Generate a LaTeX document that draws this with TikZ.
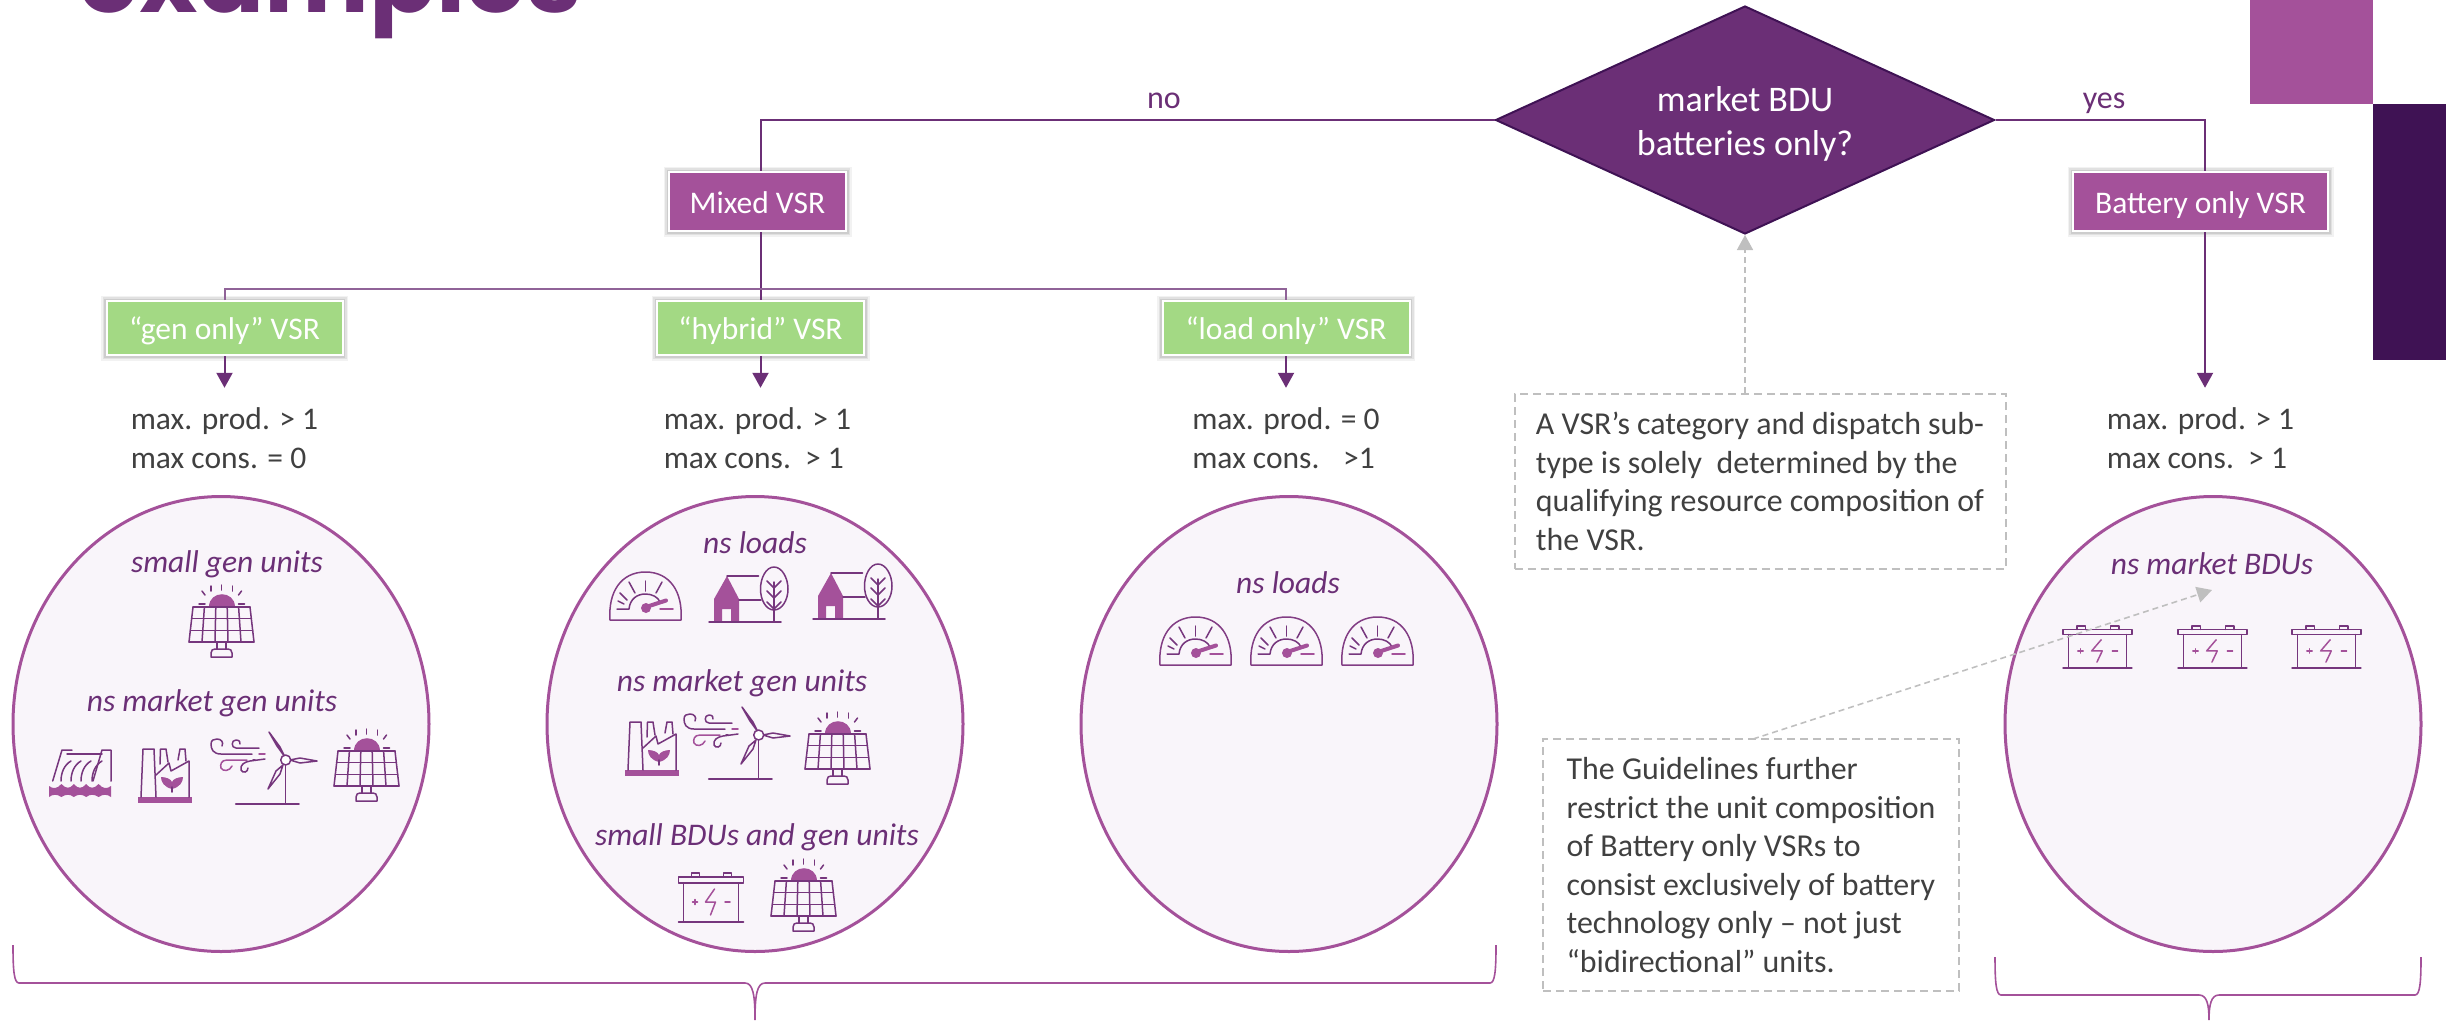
\documentclass[tikz,border=0pt]{standalone}
\usepackage{fontspec}
\setmainfont{Carlito}
\newfontfamily\titlefont{Poppins}
\usetikzlibrary{positioning,shapes,arrows.meta,shadows}
\definecolor{plum}{HTML}{6B2F76}
\definecolor{orchid}{HTML}{A4519A}
\definecolor{aubergine}{HTML}{3F1254}
\definecolor{leaf}{HTML}{A3D984}
\definecolor{blush}{HTML}{F9F5FA}
\definecolor{notegrey}{HTML}{BFBFBF}
\definecolor{bodygrey}{HTML}{404040}
\newcommand{\bodysize}{\fontsize{31.5}{38.6}\selectfont}
\tikzstyle{vsrbox} = [rectangle, minimum height=59pt, inner sep=0pt, text height=23pt, text depth=0pt, text=white, font=\bodysize, draw=white, line width=2pt, preaction={draw=black, draw opacity=0.05, line width=11pt}, preaction={draw=black, draw opacity=0.07, line width=8pt}, preaction={draw=black, draw opacity=0.09, line width=5pt}]
\tikzstyle{mixedbox} = [vsrbox, fill=orchid]
\tikzstyle{greenbox} = [vsrbox, fill=leaf, minimum height=54pt]
\tikzstyle{question} = [diamond, aspect=2.19, inner sep=0pt, minimum width=499pt, minimum height=228pt, fill=plum, draw=aubergine, line width=2pt, text=white, align=center, font=\fontsize{36}{44}\selectfont]
\tikzstyle{spec} = [inner sep=0pt, minimum height=100pt, text=bodygrey, align=left, font=\bodysize]
\tikzstyle{group} = [ellipse, inner sep=0pt, minimum width=416pt, minimum height=455pt, fill=blush, draw=orchid, line width=3pt]
\tikzstyle{unitlabel} = [text=plum, font=\bodysize\itshape]
\tikzstyle{branchlabel} = [anchor=base, text=plum, font=\fontsize{32}{38}\selectfont]
\tikzstyle{note} = [rectangle, inner sep=0pt, text=bodygrey, align=left, font=\fontsize{31.9}{38.6}\selectfont, draw=notegrey, line width=2pt, dash pattern=on 8pt off 5pt]
\tikzstyle{connect} = [line width=2pt, draw=plum, -{Triangle[length=15pt,width=16pt]}]
\tikzstyle{link} = [line width=2pt, draw=plum]
\tikzstyle{hint} = [line width=1.6pt, draw=notegrey, dash pattern=on 6pt off 4pt, -{Triangle[length=15pt,width=16pt,fill=notegrey]}]
\tikzstyle{brace} = [line width=1.6pt, draw=orchid]
\tikzstyle{thin icon} = [line width=1.5pt, draw=plum!80!orchid, line cap=round, line join=round]
\tikzset{
  solarpanel/.pic={
    \fill [orchid] (19.7,22) .. controls (19.7,4.5) and (45.7,4.5) .. (45.7,22) -- cycle;
    \foreach \tip/\foot in {32.7/0,22/1,43.5/1} \draw [thin icon] (\tip,\foot) -- (\tip,\foot+5);
    \draw [thin icon] (13,6) -- (16,10);
    \draw [thin icon] (52.5,6) -- (49.5,10);
    \draw [thin icon] (10,19) -- (16,19);
    \draw [thin icon] (49.5,19) -- (55.5,19);
    \foreach \k in {0,...,5} \draw [thin icon] ({4+\k*11.4},22) -- ({\k*13},57);
    \foreach \t in {0,1,2,3} \draw [thin icon] ({4-\t*4/3},{22+\t*35/3}) -- ({61+\t*4/3},{22+\t*35/3});
    \draw [thin icon] (28,57) -- (28,64) (37,57) -- (37,64);
    \draw [thin icon] (22,72) -- (22,68) .. controls (22,65) and (24,64) .. (26,64) -- (39,64) .. controls (41,64) and (43,65) .. (43,68) -- (43,72) -- cycle;
  },
  factory/.pic={
    \fill [orchid] (0,48) rectangle (54,54);
    \draw [thin icon] (3,48) -- (5,0) -- (16,0) -- (18,48);
    \draw [thin icon] (18,26) -- (31,14) -- (33,22) -- (51,12) -- (51,48);
    \draw [thin icon] (22,15) -- (22.5,0) -- (28,0) -- (30,13);
    \draw [thin icon] (40,11) -- (42,0) -- (47,0) -- (48,12);
    \fill [orchid] (34,40) .. controls (26,38) and (23,33) .. (23,28) .. controls (28,28) and (33,30) .. (34,33) .. controls (35,30) and (40,28) .. (45,28) .. controls (45,33) and (42,38) .. (34,40) -- cycle;
    \draw [thin icon] (34,38) -- (34,43);
  },
  turbine/.pic={
    \draw [thin icon] (42,22) -- (11,22) .. controls (3,22) and (1,17) .. (1,12) .. controls (1,8) and (4,7) .. (7,7) .. controls (11,7) and (14,10) .. (12,14);
    \draw [thin icon] (49,16) -- (26,16) .. controls (21,16) and (21,8) .. (26,8) .. controls (29,8) and (31,10) .. (30,12);
    \draw [thin icon, draw=orchid] (37,28) -- (17,28) .. controls (11,28) and (10,33) .. (11,36) .. controls (13,40) and (20,39) .. (22,34);
    \draw [thin icon] (55,27) -- (40,29) .. controls (34,30) and (30,33) .. (31,38) .. controls (33,42) and (38,40) .. (38,36);
    \draw [thin icon, draw=orchid] (49,22) -- (55,22);
    \draw [thin icon] (45,28) -- (43,28);
    \draw [thin icon, fill=blush] (59,0) -- (70,15) -- (75,25) -- (67,14) -- cycle;
    \draw [thin icon, fill=blush] (107,29) -- (90,26) -- (80,28) -- (90,31) -- cycle;
    \draw [thin icon, fill=blush] (58,57) -- (66,39) -- (73,33) -- (70,42) -- cycle;
    \draw [thin icon] (75.7,33) -- (75.7,72);
    \draw [thin icon] (25.7,72) -- (89,72);
    \draw [thin icon, fill=white] (75.7,28) circle [radius=5];
  },
  dam/.pic={
    \fill [orchid] (0,37) .. controls (4,40) and (8,40) .. (12.4,35) .. controls (17,40) and (21,40) .. (24.8,35) .. controls (29,40) and (33,40) .. (37.2,35) .. controls (41,40) and (45,40) .. (49.6,35) .. controls (54,40) and (58,40) .. (62,37) -- (62,48) .. controls (58,45) and (54,45) .. (49.6,48) .. controls (45,45) and (41,45) .. (37.2,48) .. controls (33,45) and (29,45) .. (24.8,48) .. controls (21,45) and (17,45) .. (12.4,48) .. controls (8,45) and (4,45) .. (0,48) -- cycle;
    \draw [thin icon] (3.7,32) -- (13,1) -- (23,1);
    \draw [thin icon] (44,32) -- (53,1) -- (62,1) -- (62,32);
    \draw [thin icon] (18,5) -- (53,5);
    \foreach \d in {0,10,20,31} \draw [thin icon] (12+\d,32) .. controls (12+\d,24) and (15+\d,16) .. (22+\d,12);
  },
  gauge/.pic={
    \draw [thin icon, draw=plum!60!orchid] (1,48) .. controls (-1,20) and (12,0) .. (36.5,0) .. controls (61,0) and (74,20) .. (72,48) -- cycle;
    \draw [thin icon] (8,37) -- (20,37) .. controls (21,27) and (28,22) .. (36.5,22) .. controls (43,22) and (49,25) .. (51,30);
    \draw [thin icon, draw=orchid] (51,37) -- (64,37);
    \foreach \a/\b/\c/\d in {36.5/19/36.5/9,26/21/20/10,47/21/53/10,18/28/11/21,15/32/9/29} \draw [thin icon] (\a,\b) -- (\c,\d);
    \fill [orchid] (37,36) circle [radius=5];
    \draw [line width=4pt, draw=orchid, line cap=round] (37,35) -- (57,28.5);
  },
  house/.pic={
    \fill [orchid] (5,32) -- (18,9) -- (30,32) -- (30,55) -- (22,55) -- (22,42) -- (13,42) -- (13,55) -- (5,55) -- cycle;
    \draw [thin icon] (0,55) -- (72,55);
    \draw [thin icon] (18,9) -- (49.5,9);
    \draw [thin icon] (30,33) -- (52,33);
    \draw [thin icon] (65,0) .. controls (73,0) and (79,11) .. (79,22) .. controls (79,33) and (73,43) .. (65,43) .. controls (57,43) and (51.5,33) .. (51.5,22) .. controls (51.5,11) and (57,0) .. (65,0) -- cycle;
    \draw [thin icon] (65,15) -- (65,55);
    \foreach \f in {21,31,42} \draw [thin icon] (58,\f-7) -- (65,\f) -- (72,\f-7);
  },
  battery/.pic={
    \draw [thin icon] (0,4) rectangle (65,10);
    \draw [thin icon] (13,4) -- (13,0) -- (21,0) -- (21,4);
    \draw [thin icon] (45,4) -- (45,0) -- (53,0) -- (53,4);
    \draw [thin icon] (5,10) -- (5,49) (60,10) -- (60,49);
    \draw [thin icon] (0,49) -- (65,49);
    \draw [thin icon, draw=orchid] (14,29) -- (19,29) (16.5,26.5) -- (16.5,31.5);
    \draw [thin icon, draw=orchid] (46.5,29) -- (51.5,29);
    \draw [thin icon, draw=orchid] (36,16) -- (27,29) -- (37,29) -- (32,42);
  }
}
\begin{document}
\begin{tikzpicture}[x=1pt,y=-1pt,node distance=110pt]
	\useasboundingbox (0,0) rectangle (2446,1020);
	\node (title) [anchor=base west, inner sep=0pt, text=plum, font=\titlefont\bfseries\fontsize{99}{110}\selectfont] at (78,12) {examples};
	\fill [orchid] (2250,0) rectangle (2373,104);
	\fill [aubergine] (2373,104) rectangle (2446,360);
	%-----------------------------------------------
	\node (question) [question] at (1745,120) {\rule{0pt}{33pt}market BDU\\batteries only?};
	\node (mixed) [mixedbox, minimum width=177pt] at (757.5,201.5) {Mixed VSR};
	\node (battery) [mixedbox, minimum width=255pt] at (2200.5,201.5) {Battery only VSR};
	\node (genvsr) [greenbox, minimum width=236pt] at (224.5,328) {“gen only” VSR};
	\node (hybridvsr) [greenbox, minimum width=207pt] at (760.5,328) {“hybrid” VSR};
	\node (loadvsr) [greenbox, minimum width=247pt] at (1286,328) {“load only” VSR};
	\coordinate (batterytop) at (2205,201.5);
	\node (nolabel) [branchlabel] at (1164,108) {no};
	\node (yeslabel) [branchlabel] at (2104,108) {yes};
	%-----------------------------------------------
	\node (genspec) [spec, below of=genvsr] {max. prod. > 1\\max cons. = 0};
	\node (hybridspec) [spec, below of=hybridvsr, xshift=-3pt] {max. prod. > 1\\max cons.\ \ > 1};
	\node (loadspec) [spec, below of=loadvsr] {max. prod. = 0\\max cons. \ \ >1};
	\node (batteryspec) [spec] at (2200.5,438) {max. prod. > 1\\max cons.\ \ > 1};
	%-----------------------------------------------
	\node (gengroup) [group] at (221,724) {};
	\node (mixedgroup) [group] at (755,724) {};
	\node (loadgroup) [group] at (1289,724) {};
	\node (batterygroup) [group] at (2213,724) {};
	%-----------------------------------------------
	\node (smallgen) [unitlabel] at (227,564) {small gen units};
	\node (nsgen) [unitlabel] at (212,703) {ns market gen units};
	\node (mixedloads) [unitlabel] at (755,543) {ns loads};
	\node (mixedgen) [unitlabel] at (742,683) {ns market gen units};
	\node (smallbdu) [unitlabel] at (757,837) {small BDUs and gen units};
	\node (loadloads) [unitlabel] at (1288,583) {ns loads};
	\node (marketbdu) [unitlabel] at (2212,564) {ns market BDUs};
	%-----------------------------------------------
	\pic at (189,585) {solarpanel};
	\pic at (49,749) {dam};
	\pic at (138,749) {factory};
	\pic at (210,732) {turbine};
	\pic at (334,729) {solarpanel};
	\pic at (609,572) {gauge};
	\pic at (709,567) {house};
	\pic at (813,564) {house};
	\pic at (625,722) {factory};
	\pic at (683,707) {turbine};
	\pic at (805,712) {solarpanel};
	\pic at (678.5,873) {battery};
	\pic at (771,859) {solarpanel};
	\foreach \x in {1159,1250,1341} \pic at (\x,617) {gauge};
	\foreach \x in {2063,2178,2292} \pic [xscale=1.06,yscale=0.86] at (\x,626) {battery};
	%-----------------------------------------------
	\draw [link] (question.west) -| (hybridvsr |- mixed.north);
	\draw [link] (question.east) -| (batterytop |- battery.north);
	\draw [link] (hybridvsr |- mixed.south) -- (hybridvsr.north);
	\draw [link, draw=plum!75!white] (genvsr.north) |- (hybridvsr.north |- 0,289) -| (loadvsr.north);
	\draw [connect] (genvsr) -- (genvsr |- genspec.north);
	\draw [connect] (hybridvsr) -- (hybridvsr |- hybridspec.north);
	\draw [connect] (loadvsr) -- (loadvsr |- loadspec.north);
	\draw [connect] (batterytop |- battery.south) -- (batterytop |- batteryspec.north);
	%-----------------------------------------------
	\node (noteone) [note, minimum width=491pt, minimum height=175pt] at (1760,481.5) {A VSR’s category and dispatch sub-\hspace{2pt}\\type is solely\ \ determined by the\\qualifying resource composition of\\the VSR.};
	\node (notetwo) [note, minimum width=416pt, minimum height=252pt] at (1751,865) {The Guidelines further\\restrict the unit composition\\of Battery only VSRs to\\consist exclusively of battery\hspace{6pt}\\technology only – not just\\“bidirectional” units.};
	\coordinate (bdutip) at (2212,590);
	\draw [hint] (noteone.north -| question) -- (question.south);
	\draw [hint] (1753,739) -- (bdutip);
	%-----------------------------------------------
	\draw [brace] (13,945) .. controls (13,970) and (14,983) .. (19,983) -- (745,983) .. controls (753,983) and (755,995) .. (755,1020) .. controls (755,995) and (757,983) .. (765,983) -- (1490,983) .. controls (1495,983) and (1496,970) .. (1496,945);
	\draw [brace] (1995,957) .. controls (1995,982) and (1996,995) .. (2001,995) -- (2199,995) .. controls (2207,995) and (2209,1005) .. (2209,1020) .. controls (2209,1005) and (2211,995) .. (2219,995) -- (2415,995) .. controls (2420,995) and (2421,982) .. (2421,957);
\end{tikzpicture}
\end{document}
